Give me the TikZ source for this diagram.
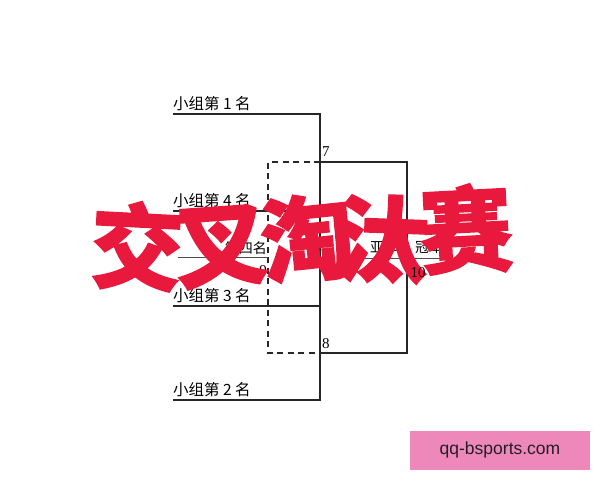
\documentclass[tikz,border=0pt]{standalone}
\usepackage{fontspec}
\setmainfont{Liberation Serif}
\newfontfamily\cjk{Noto Sans CJK SC}
\newfontfamily\heavy[BoldFeatures={FakeBold=1.5}]{Noto Sans CJK SC}
\newfontfamily\wmfont{Liberation Sans}
\definecolor{bigred}{RGB}{232,25,60}
\definecolor{wmpink}{RGB}{238,136,186}
\definecolor{wmtext}{RGB}{34,30,40}
\begin{document}
\begin{tikzpicture}[x=1pt,y=-1pt,
  bline/.style={line width=1.4pt,black!85},
  dline/.style={line width=1.2pt,black!85,dash pattern=on 6pt off 4.5pt},
  lab/.style={font=\cjk\fontsize{15.5}{17}\selectfont,inner sep=0pt,anchor=south west},
  num/.style={font=\fontsize{15}{16}\selectfont,inner sep=0pt},
  small/.style={font=\cjk\fontsize{14}{16}\selectfont,inner sep=0pt},
  big/.style={font=\heavy\bfseries\fontsize{93}{96}\selectfont,text=bigred,inner sep=0pt}]
\useasboundingbox (0,0) rectangle (600,480);
\fill[white] (0,0) rectangle (600,480);
% coordinates
\coordinate (a1) at (173,114); \coordinate (b1) at (320,114);
\coordinate (a4) at (173,211); \coordinate (b4) at (320,211);
\coordinate (a3) at (173,306); \coordinate (b3) at (320,306);
\coordinate (a2) at (173,400); \coordinate (b2) at (320,400);
\coordinate (m7) at (320,162); \coordinate (m8) at (320,353);
\coordinate (r7) at (407,162); \coordinate (r8) at (407,353);
\coordinate (d7) at (268,162); \coordinate (d8) at (268,353);
\coordinate (t1) at (178,257); \coordinate (t2) at (268,257);
\coordinate (f1) at (365,258); \coordinate (f2) at (440,258);
% labels
\node[lab] (l1) at (173,111) {小组第 1 名};
\node[lab] (l4) at (173,208) {小组第 4 名};
\node[lab] (l3) at (173,303) {小组第 3 名};
\node[lab] (l2) at (173,397) {小组第 2 名};
% lines
\draw[bline] (a1) -- (b1) -- (b2) -- (a2);
\draw[bline] (a4) -- (b4);
\draw[bline] (a3) -- (b3);
\draw[bline] (m7) -- (r7) -- (r8) -- (m8);
\draw[dline] (m7) -- (d7) -- (d8) -- (m8);
\draw[line width=0.8pt,black!70] (t1) -- (t2);
\draw[line width=0.8pt,black!70] (f1) -- (f2);
\node[num,anchor=west] (n7) at (322,152) {7};
\node[num,anchor=west] (n8) at (322,344) {8};
\node[num] (n9) at (263,271) {9};
\node[small,anchor=south east] (p4) at (267,255) {第四名};
\node[small] (p2) at (384,247) {亚军};
\node[small] (p1) at (429,247) {冠军};
% big red title
\node[big,rotate=-3] (c1) at (137,246) {交};
\node[big,rotate=4] (c2) at (221,247) {叉};
\node[big,rotate=6] (c3) at (307,238) {淘};
\node[big,rotate=-2] (c4) at (382,239) {汰};
\node[big,rotate=3] (c5) at (466,229) {赛};
\node[num] (n10) at (418,273) {10};
% watermark
\node[fill=wmpink,minimum width=180pt,minimum height=39pt,inner sep=0pt] (wm) at (500,450.5) {};
\node[font=\wmfont\fontsize{17.5}{20}\selectfont,text=wmtext,inner sep=0pt] (wmt) at (500,450) {qq-bsports.com};
\end{tikzpicture}
\end{document}
